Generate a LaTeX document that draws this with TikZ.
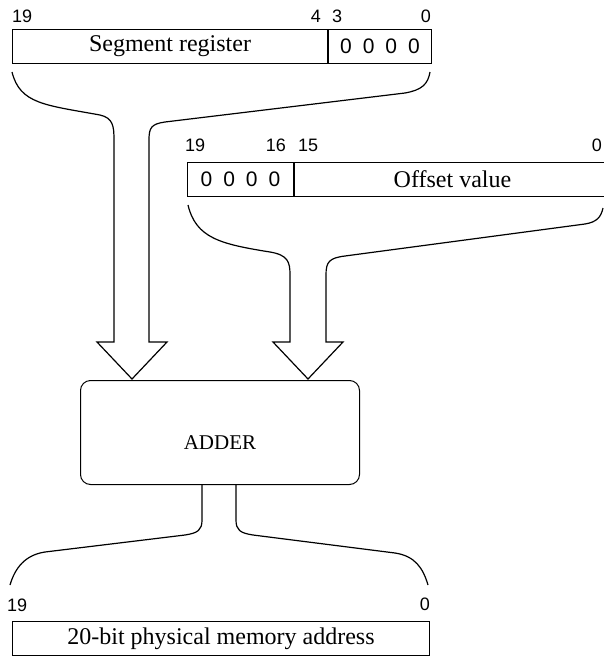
\documentclass[tikz,border=0pt]{standalone}
\usepackage{fontspec}
\setmainfont{Liberation Serif}
\setsansfont{Liberation Sans}
\usepackage{tikz}
\newcommand{\zerobits}{0\hspace{11pt}0\hspace{11pt}0\hspace{11pt}0}
\begin{document}
\begin{tikzpicture}[
  x=1pt, y=-1pt,
  reg/.style  = {draw, line width=1pt, minimum height=34pt, inner sep=0pt,
                 font=\fontsize{24}{28}\selectfont},
  zr/.style   = {reg, font=\sffamily\fontsize{21}{24}\selectfont},
  bit/.style  = {inner sep=0pt, font=\sffamily\fontsize{18}{20}\selectfont},
  fun/.style  = {draw, line width=1.2pt, line join=miter},
]
\useasboundingbox (0,0) rectangle (603,656);

% registers
\node[reg, minimum width=315pt, anchor=north west] (seg)  at (12,29) {Segment register};
\node[zr,  minimum width=103pt, anchor=west]       (segz) at (seg.east) {\zerobits};

\node[zr,  minimum width=106pt, anchor=north west] (offz) at (187,162) {\zerobits};
\node[reg, minimum width=316pt, anchor=west]       (off)  at (offz.east) {Offset value};

\node[draw, line width=1pt, rounded corners=10pt, minimum width=279pt,
      minimum height=104pt, anchor=north west, text height=34pt, text depth=0pt,
      font=\fontsize{21}{24}\selectfont] (add) at (80,380) {ADDER};

\node[reg, minimum width=417pt, anchor=north west] (addr) at (12,621)
  {20-bit physical memory address};

% bit numbers
\node[bit, anchor=west] (s19) at (12,16)  {19};
\node[bit, anchor=east] (s4)  at (321,16) {4};
\node[bit, anchor=west] (s3)  at (332,16) {3};
\node[bit, anchor=east] (s0)  at (431,16) {0};

\node[bit, anchor=west] (o19) at (185,145) {19};
\node[bit, anchor=east] (o16) at (286,145) {16};
\node[bit, anchor=west] (o15) at (298,145) {15};
\node[bit, anchor=east] (o0)  at (602,145) {0};

\node[bit, anchor=west] (a19) at (7,605)   {19};
\node[bit, anchor=east] (a0)  at (430,604) {0};

% funnels
\draw[fun] (12,72) .. controls (20,104) and (45,105) .. (100,115)
  .. controls (113,118) and (114,126) .. (114,140) -- (114,342)
  -- (97,342) -- (132,379) -- (167,342) -- (149,342) -- (149,140)
  .. controls (149,128) and (151,124) .. (165,122) -- (405,93)
  .. controls (422,90) and (428,84) .. (430,72);

\draw[fun] (188,205) .. controls (196,238) and (220,244) .. (270,252)
  .. controls (288,255) and (290,262) .. (290,275) -- (290,342)
  -- (273,342) -- (308,379) -- (343,342) -- (326,342) -- (326,275)
  .. controls (326,262) and (329,258) .. (345,256) -- (585,224)
  .. controls (597,222) and (601,217) .. (603,208);

\draw[fun] (202,484) -- (202,520) .. controls (202,530) and (198,533) .. (185,535)
  -- (45,552) .. controls (25,555) and (15,568) .. (10,585);
\draw[fun] (236,484) -- (236,520) .. controls (236,530) and (240,533) .. (253,535)
  -- (395,553) .. controls (415,556) and (423,568) .. (428,585);

\end{tikzpicture}
\end{document}
